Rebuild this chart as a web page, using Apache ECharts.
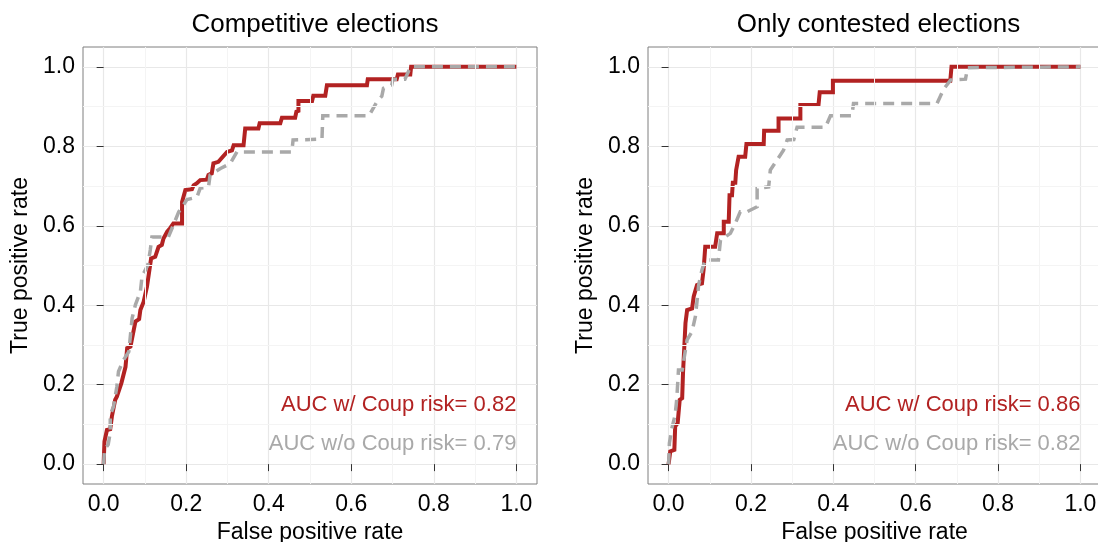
<!DOCTYPE html>
<html>
<head>
<meta charset="utf-8">
<script src="https://cdn.jsdelivr.net/npm/echarts@6/dist/echarts.min.js"></script>
<style>
  html, body { margin: 0; padding: 0; background: #ffffff; }
  #chart { width: 1098px; height: 542px; }
</style>
</head>
<body>
<div id="chart"></div>
<script>
// Panel titles and axis ticks
const panelTitles = ['Competitive elections', 'Only contested elections'];
const tickValues = [0, 0.2, 0.4, 0.6, 0.8, 1.0];
const minorValues = [0.1, 0.3, 0.5, 0.7, 0.9];

// AUC of each model, per panel
const aucWith = [0.82, 0.86];
const aucWithout = [0.79, 0.82];

// Competitive elections: ROC with coup risk
const fprCompWith = [0, 0.002, 0.008, 0.016, 0.020, 0.028, 0.032, 0.043, 0.053, 0.057, 0.065, 0.073, 0.077, 0.086, 0.089, 0.097, 0.105, 0.115, 0.125, 0.133, 0.141, 0.145, 0.154, 0.161, 0.169, 0.182, 0.190, 0.190, 0.198, 0.214, 0.218, 0.226, 0.234, 0.250, 0.254, 0.262, 0.266, 0.278, 0.299, 0.311, 0.315, 0.339, 0.343, 0.375, 0.378, 0.428, 0.432, 0.464, 0.467, 0.472, 0.472, 0.505, 0.508, 0.537, 0.541, 0.638, 0.640, 0.710, 0.713, 0.743, 0.745, 1.0];
const tprCompWith = [0, 0.057, 0.086, 0.088, 0.120, 0.162, 0.170, 0.204, 0.245, 0.292, 0.296, 0.338, 0.359, 0.365, 0.388, 0.409, 0.447, 0.518, 0.522, 0.547, 0.552, 0.568, 0.585, 0.594, 0.606, 0.606, 0.606, 0.660, 0.690, 0.692, 0.702, 0.707, 0.715, 0.716, 0.728, 0.732, 0.757, 0.761, 0.786, 0.790, 0.803, 0.803, 0.845, 0.845, 0.858, 0.858, 0.872, 0.872, 0.887, 0.889, 0.914, 0.914, 0.927, 0.927, 0.954, 0.954, 0.969, 0.969, 0.981, 0.981, 1.0, 1.0];

// Competitive elections: ROC without coup risk
const fprCompWithout = [0, 0.002, 0.011, 0.016, 0.016, 0.024, 0.032, 0.036, 0.048, 0.061, 0.069, 0.077, 0.089, 0.093, 0.107, 0.113, 0.117, 0.157, 0.169, 0.182, 0.202, 0.226, 0.234, 0.254, 0.258, 0.283, 0.307, 0.323, 0.456, 0.459, 0.529, 0.531, 0.643, 0.662, 0.674, 0.678, 0.698, 0.701, 0.730, 0.738, 0.743, 1.0];
const tprCompWithout = [0, 0.036, 0.049, 0.079, 0.124, 0.145, 0.195, 0.233, 0.262, 0.283, 0.367, 0.401, 0.434, 0.472, 0.501, 0.539, 0.572, 0.572, 0.602, 0.635, 0.666, 0.672, 0.695, 0.697, 0.728, 0.744, 0.757, 0.786, 0.786, 0.816, 0.818, 0.877, 0.877, 0.912, 0.926, 0.946, 0.954, 0.969, 0.969, 0.987, 1.0, 1.0];

// Only contested elections: ROC with coup risk
const fprContWith = [0, 0.004, 0.014, 0.016, 0.022, 0.027, 0.033, 0.035, 0.041, 0.045, 0.057, 0.061, 0.065, 0.069, 0.081, 0.085, 0.089, 0.089, 0.113, 0.118, 0.134, 0.134, 0.146, 0.148, 0.154, 0.156, 0.162, 0.164, 0.170, 0.186, 0.189, 0.231, 0.232, 0.267, 0.267, 0.320, 0.320, 0.364, 0.367, 0.399, 0.399, 0.684, 0.687, 1.0];
const tprContWith = [0, 0.032, 0.036, 0.095, 0.103, 0.162, 0.166, 0.229, 0.355, 0.388, 0.392, 0.422, 0.426, 0.451, 0.455, 0.489, 0.489, 0.547, 0.547, 0.581, 0.581, 0.610, 0.610, 0.677, 0.677, 0.708, 0.708, 0.740, 0.774, 0.774, 0.806, 0.806, 0.839, 0.839, 0.870, 0.870, 0.904, 0.904, 0.936, 0.936, 0.965, 0.965, 1.0, 1.0];

// Only contested elections: ROC without coup risk
const fprContWithout = [0, 0.002, 0.008, 0.016, 0.020, 0.024, 0.033, 0.045, 0.057, 0.065, 0.069, 0.073, 0.081, 0.089, 0.121, 0.126, 0.150, 0.162, 0.174, 0.190, 0.215, 0.215, 0.243, 0.247, 0.263, 0.279, 0.288, 0.304, 0.312, 0.381, 0.393, 0.445, 0.449, 0.652, 0.668, 0.685, 0.721, 0.726, 1.0];
const tprContWithout = [0, 0.053, 0.091, 0.124, 0.166, 0.237, 0.237, 0.313, 0.334, 0.371, 0.409, 0.451, 0.489, 0.514, 0.514, 0.564, 0.581, 0.606, 0.635, 0.635, 0.648, 0.694, 0.698, 0.740, 0.765, 0.790, 0.816, 0.817, 0.848, 0.848, 0.877, 0.877, 0.908, 0.908, 0.944, 0.967, 0.969, 0.998, 1.0];

const RED = '#B22222';
const GREY = '#A9A9A9';
const FONT = '"Liberation Sans", Arial, sans-serif';

function pairs(xs, ys) {
  return xs.map((x, i) => [x, ys[i]]);
}

const gridBoxes = [
  { left: 83, top: 47, width: 454, height: 437 },
  { left: 648, top: 47, width: 453, height: 437 }
];

function makeAxis(idx, name, isX) {
  return {
    type: 'value',
    gridIndex: idx,
    min: -0.05,
    max: 1.05,
    name: name,
    nameLocation: 'middle',
    nameGap: isX ? 35 : 51,
    nameTextStyle: { fontFamily: FONT, fontSize: 23, color: '#000' },
    axisLine: { show: false },
    axisTick: {
      show: true, length: 7, customValues: tickValues,
      lineStyle: { color: '#333333', width: 1 }
    },
    axisLabel: {
      show: true, customValues: tickValues, margin: isX ? 9 : 8,
      fontFamily: FONT, fontSize: 23, color: '#000',
      formatter: v => v.toFixed(1)
    },
    splitLine: { show: true, lineStyle: { color: '#E8E8E8', width: 1.2 } },
    minorSplitLine: { show: false }
  };
}

const series = [];
const curves = [
  [pairs(fprCompWith, tprCompWith), pairs(fprCompWithout, tprCompWithout)],
  [pairs(fprContWith, tprContWith), pairs(fprContWithout, tprContWithout)]
];

[0, 1].forEach(i => {
  // faint minor grid lines at the odd tenths
  series.push({
    type: 'line', xAxisIndex: i, yAxisIndex: i, data: [], z: 1, silent: true,
    markLine: {
      silent: true, symbol: 'none', animation: false,
      label: { show: false },
      lineStyle: { color: '#F4F4F4', width: 1, type: 'solid' },
      data: minorValues.map(v => ({ xAxis: v })).concat(minorValues.map(v => ({ yAxis: v })))
    }
  });
  series.push({
    type: 'line', xAxisIndex: i, yAxisIndex: i, z: 3,
    data: curves[i][0], showSymbol: false, symbol: 'none', animation: false,
    lineStyle: { color: RED, width: 4, cap: 'butt', join: 'miter' }
  });
  series.push({
    type: 'line', xAxisIndex: i, yAxisIndex: i, z: 4,
    data: curves[i][1], showSymbol: false, symbol: 'none', animation: false,
    lineStyle: { color: GREY, width: 3.5, type: [11, 7], cap: 'butt', join: 'miter' }
  });
  // AUC annotations, right-aligned at x = 1
  series.push({
    type: 'scatter', xAxisIndex: i, yAxisIndex: i, z: 5, symbolSize: 0, silent: true,
    animation: false,
    itemStyle: { opacity: 1 },
    data: [
      { value: [1.0, 0.149], label: { formatter: 'AUC w/ Coup risk= ' + aucWith[i].toFixed(2), color: RED } },
      { value: [1.0, 0.051], label: { formatter: 'AUC w/o Coup risk= ' + aucWithout[i].toFixed(2), color: GREY } }
    ],
    label: {
      show: true, position: 'left', distance: 0,
      fontFamily: FONT, fontSize: 22
    }
  });
});

const chart = echarts.init(document.getElementById('chart'), null, { renderer: 'canvas' });
chart.setOption({
  backgroundColor: '#ffffff',
  animation: false,
  title: panelTitles.map((t, i) => ({
    text: t,
    left: gridBoxes[i].left + gridBoxes[i].width / 2 + (i === 1 ? -1 : 0),
    textAlign: 'center',
    top: 7,
    textStyle: { fontFamily: FONT, fontSize: 26, fontWeight: 'normal', color: '#000' }
  })),
  grid: gridBoxes.map(b => Object.assign({
    show: true, borderColor: '#7F7F7F', borderWidth: 1, backgroundColor: 'transparent',
    containLabel: false, outerBoundsMode: 'none'
  }, b)),
  xAxis: [makeAxis(0, 'False positive rate', true), makeAxis(1, 'False positive rate', true)],
  yAxis: [makeAxis(0, 'True positive rate', false), makeAxis(1, 'True positive rate', false)],
  series: series
});
</script>
</body>
</html>
